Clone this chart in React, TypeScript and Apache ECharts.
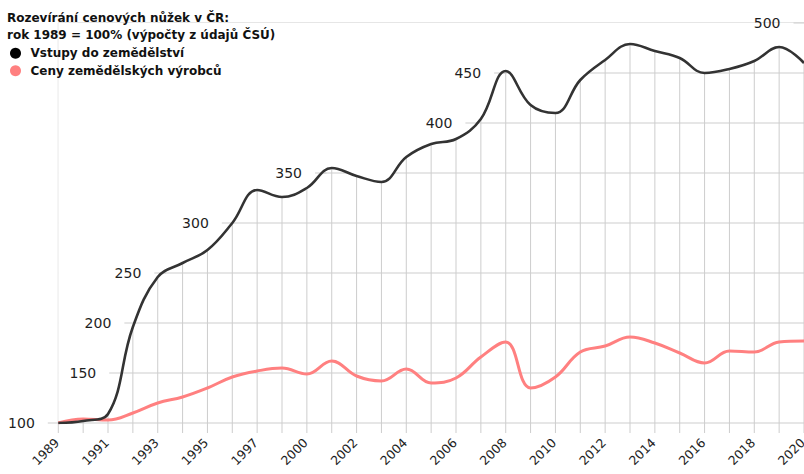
import React, { useEffect, useRef } from "react";
import * as echarts from "echarts";

const years = [
  "1989", "1990", "1991", "1992", "1993", "1994", "1995", "1996", "1997", "1998",
  "2000", "2001", "2002", "2003", "2004", "2005", "2006", "2007", "2008", "2009",
  "2010", "2011", "2012", "2013", "2014", "2015", "2016", "2017", "2018", "2019", "2020",
];

const vstupy = [
  100, 102, 109, 196, 246, 260, 273, 300, 333, 326,
  335, 355, 347, 341, 366, 379, 384, 404, 452, 418,
  410, 443, 463, 479, 472, 465, 450, 454, 462, 476, 460,
];

const ceny = [
  100, 104, 103, 110, 120, 126, 135, 146, 152, 155,
  149, 162, 147, 142, 154, 140, 145, 166, 181, 135,
  146, 171, 177, 186, 180, 170, 160, 172, 171, 181, 182,
];

const yTicks = [100, 150, 200, 250, 300, 350, 400, 450, 500];
const Y_MIN = 100;
const Y_MAX = 500;

const titleText = "Rozevírání cenových nůžek v ČR:\nrok 1989 = 100% (výpočty z údajů ČSÚ)";
const nameVstupy = "Vstupy do zemědělství";
const nameCeny = "Ceny zemědělských výrobců";

const GRID_COLOR = "#cdcdcd";
const TEXT_COLOR = "#1e1e1e";
const MASK_COLOR = "#ffffff";
const LABEL_FONT = "'DejaVu Sans', sans-serif";
const HEAD_FONT = "'DejaVu Sans', sans-serif";
const SMOOTH = 0.4;

export default function App() {
  const ref = useRef<HTMLDivElement>(null);

  useEffect(() => {
    if (!ref.current) return;
    const chart = echarts.init(ref.current, undefined, { renderer: "svg" });

    const renderTick = (params: any, api: any) => {
      const v = api.value(1);
      const idx = vstupy.findIndex((d) => d >= v);
      let x: number;
      const y = api.coord([0, v])[1];
      if (idx === -1) {
        x = api.coord([vstupy.length - 1, v])[0];
      } else if (idx === 0) {
        x = api.coord([0, v])[0];
      } else {
        const p0 = api.coord([idx - 1, v])[0];
        const p1 = api.coord([idx, v])[0];
        const f = (v - vstupy[idx - 1]) / (vstupy[idx] - vstupy[idx - 1]);
        x = p0 + (p1 - p0) * f;
      }
      const stubStart = x - 10.5;
      return {
        type: "group",
        children: [
          {
            type: "line",
            shape: { x1: stubStart, y1: y, x2: x + 1, y2: y },
            style: { stroke: GRID_COLOR, lineWidth: 1 },
          },
          {
            type: "text",
            x: stubStart - 13,
            y: y,
            style: {
              text: String(v),
              align: "right",
              verticalAlign: "middle",
              fontSize: 14,
              fontFamily: LABEL_FONT,
              fill: TEXT_COLOR,
            },
          },
        ],
      };
    };

    const renderHGrid = (params: any, api: any) => {
      const v = api.value(1);
      const a = api.coord([0, v]);
      const b = api.coord([years.length - 1, v]);
      return {
        type: "line",
        shape: { x1: a[0], y1: a[1], x2: b[0], y2: b[1] },
        style: { stroke: GRID_COLOR, lineWidth: 1 },
      };
    };

    const renderVGrid = (params: any, api: any) => {
      const i = api.value(0);
      const a = api.coord([i, Y_MIN]);
      const b = api.coord([i, Y_MAX]);
      return {
        type: "line",
        shape: { x1: a[0], y1: a[1] + 10, x2: b[0], y2: b[1] },
        style: { stroke: GRID_COLOR, lineWidth: 1 },
      };
    };

    chart.setOption({
      animation: false,
      title: {
        text: titleText,
        left: 7,
        top: 9,
        padding: 0,
        textStyle: {
          fontFamily: HEAD_FONT,
          fontWeight: "bold",
          fontSize: 12,
          lineHeight: 17.5,
          color: "#111",
        },
      },
      legend: {
        data: [nameVstupy, nameCeny],
        orient: "vertical",
        left: 10,
        top: 44.5,
        padding: 0,
        itemGap: 0,
        itemWidth: 11,
        itemHeight: 11,
        icon: "circle",
        selectedMode: false,
        textStyle: {
          fontFamily: HEAD_FONT,
          fontWeight: "bold",
          fontSize: 12,
          lineHeight: 17.5,
          color: "#111",
          padding: [0, 0, 0, 4.5],
        },
      },
      grid: {
        left: 58.3,
        right: 0,
        top: 23,
        bottom: 51,
        containLabel: false,
        outerBoundsMode: "none",
      },
      xAxis: {
        type: "category",
        data: years,
        boundaryGap: false,
        axisLine: { show: false },
        axisTick: { show: false },
        splitLine: { show: false },
        axisLabel: {
          interval: 1,
          rotate: 45,
          margin: 16,
          padding: [0, 2, 0, 0],
          fontSize: 12.5,
          fontFamily: LABEL_FONT,
          color: TEXT_COLOR,
        },
      },
      yAxis: {
        type: "value",
        min: Y_MIN,
        max: Y_MAX,
        interval: 50,
        axisLine: { show: false },
        axisTick: { show: false },
        axisLabel: { show: false },
        splitLine: { show: false },
      },
      series: [
        {
          name: "hgrid",
          type: "custom",
          data: yTicks.map((v) => [0, v]),
          encode: { x: 0, y: 1 },
          renderItem: renderHGrid,
          clip: false,
          z: 1,
        },
        {
          name: "vgrid",
          type: "custom",
          data: years.map((_, i) => [i, Y_MIN]),
          encode: { x: 0, y: 1 },
          renderItem: renderVGrid,
          clip: false,
          z: 1,
        },
        {
          name: "mask",
          type: "line",
          data: vstupy,
          smooth: SMOOTH,
          symbol: "none",
          z: 2,
          itemStyle: { color: MASK_COLOR },
          lineStyle: { color: MASK_COLOR, width: 1 },
          areaStyle: { color: MASK_COLOR, opacity: 1, origin: "end" },
        },
        {
          name: "ticks",
          type: "custom",
          data: yTicks.map((v) => [0, v]),
          encode: { x: 0, y: 1 },
          renderItem: renderTick,
          clip: false,
          z: 3,
        },
        {
          name: nameCeny,
          type: "line",
          data: ceny,
          smooth: SMOOTH,
          symbol: "none",
          z: 4,
          itemStyle: { color: "#ff8080" },
          lineStyle: { color: "#ff8080", width: 3 },
        },
        {
          name: nameVstupy,
          type: "line",
          data: vstupy,
          smooth: SMOOTH,
          symbol: "none",
          z: 5,
          itemStyle: { color: "#000000" },
          lineStyle: { color: "#333333", width: 2.6 },
        },
      ],
    });

    return () => chart.dispose();
  }, []);

  return (
    <div
      ref={ref}
      style={{ position: "absolute", left: 0, top: 0, width: 804, height: 474 }}
    />
  );
}
